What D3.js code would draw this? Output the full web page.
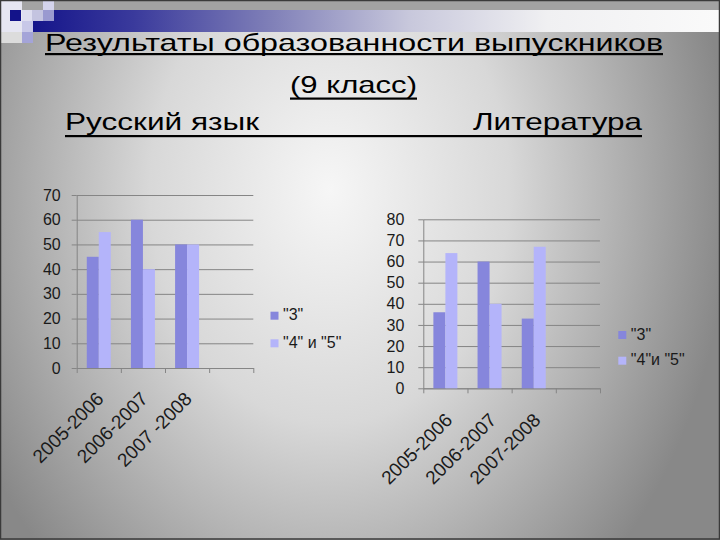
<!DOCTYPE html>
<html>
<head>
  <meta charset="utf-8">
  <script src="https://d3js.org/d3.v7.min.js"></script>
  <style>
    body { margin: 0; }
    svg { display: block; font-family: "Liberation Sans", Arial, sans-serif; }
    .grid line { stroke: #858585; stroke-width: 1px; }
    .grid path { display: none; }
    .axis path, .axis line { stroke: #858585; stroke-width: 1px; }
    .axis text { font-size: 16px; fill: #1a1a1a; }
    .cat { font-size: 19px; fill: #1a1a1a; }
    .legend text { font-size: 16px; fill: #1a1a1a; }
    .title { font-size: 24px; fill: #000; }
  </style>
</head>
<body>
  <script>
    // title texts
    var titleLine1 = "Результаты образованности выпускников";
    var titleLine2 = "(9 класс)";
    var subLeft = "Русский язык";
    var subRight = "Литература";

    // Русский язык
    var rusYears = ["2005-2006", "2006-2007", "2007 -2008", ""];
    var rus3 = [45, 60, 50];
    var rus45 = [55, 40, 50];
    var rusTicks = [0, 10, 20, 30, 40, 50, 60, 70];
    var rusLegend = ['"3"', '"4" и "5"'];

    // Литература
    var litYears = ["2005-2006", "2006-2007", "2007-2008", ""];
    var lit3 = [36, 60, 33];
    var lit45 = [64, 40, 67];
    var litTicks = [0, 10, 20, 30, 40, 50, 60, 70, 80];
    var litLegend = ['"3"', '"4"и "5"'];

    var colors = ["#8686dc", "#b4b4fa"];

    var width = 720, height = 540;
    var svg = d3.select("body").append("svg")
        .attr("width", width)
        .attr("height", height);

    var defs = svg.append("defs");
    var bg = defs.append("radialGradient")
        .attr("id", "bg")
        .attr("gradientUnits", "userSpaceOnUse")
        .attr("cx", 0).attr("cy", 0).attr("r", 1)
        .attr("gradientTransform", "translate(330,190) scale(400,520)");
    [[0, "#f6f6f6"], [0.45, "#d8d8d8"], [0.7, "#b4b4b4"], [0.85, "#9e9e9e"], [1, "#888888"]]
      .forEach(function(s) { bg.append("stop").attr("offset", s[0]).attr("stop-color", s[1]); });

    var band = defs.append("linearGradient")
        .attr("id", "band")
        .attr("gradientUnits", "userSpaceOnUse")
        .attr("x1", 30).attr("x2", 720).attr("y1", 0).attr("y2", 0);
    [[0, "#14148a"], [0.15, "#3a3a9c"], [0.35, "#8080b8"], [0.55, "#c8c8dc"], [0.75, "#f0f0f2"], [1, "#fafafa"]]
      .forEach(function(s) { band.append("stop").attr("offset", s[0]).attr("stop-color", s[1]); });

    svg.append("rect").attr("width", width).attr("height", height).attr("fill", "url(#bg)");
    svg.append("rect").attr("x", 0).attr("y", 0).attr("width", width).attr("height", 10).attr("fill", "#a2a2a2");
    svg.append("rect").attr("x", 22).attr("y", 10).attr("width", 698).attr("height", 22).attr("fill", "url(#band)");

    // little squares in the corner
    var squares = [
      [0, 0, 22, 32, "#e6e6f2"], [10, 10, 11, 11, "#13138a"], [22, 0, 21, 10, "#a4a4a4"],
      [43, 0, 11, 10, "#d4d4ec"], [22, 10, 11, 11, "#dedef0"], [32, 10, 11, 11, "#c4c4e0"],
      [43, 10, 11, 11, "#9a9ad0"], [22, 21, 11, 11, "#c8c8e8"], [22, 32, 11, 11, "#a4a4d8"],
      [0, 32, 22, 11, "#dcdcdc"]
    ];
    svg.selectAll(".sq").data(squares).enter().append("rect")
        .attr("x", function(d) { return d[0]; })
        .attr("y", function(d) { return d[1]; })
        .attr("width", function(d) { return d[2]; })
        .attr("height", function(d) { return d[3]; })
        .attr("fill", function(d) { return d[4]; });

    svg.append("rect").attr("x", 0.5).attr("y", 0.5).attr("width", width - 1).attr("height", height - 1.5)
        .attr("fill", "none").attr("stroke", "#3a3a3a").attr("stroke-width", 1.5);

    // titles, underlined
    function titleText(str, x, w, y) {
      svg.append("text").attr("class", "title")
          .attr("x", x).attr("y", y)
          .attr("textLength", w).attr("lengthAdjust", "spacingAndGlyphs")
          .text(str);
    }
    titleText(titleLine1, 45, 618, 51);
    titleText(titleLine2, 290, 127, 93);
    titleText(subLeft, 65, 194, 129.5);
    titleText(subRight, 473, 169, 129.5);
    [[45, 663, 53], [290, 417, 97.5], [65, 642, 135]].forEach(function(u) {
      svg.append("rect").attr("x", u[0]).attr("y", u[2]).attr("width", u[1] - u[0]).attr("height", 2.2).attr("fill", "#000");
    });

    function drawChart(o) {
      var g = svg.append("g");
      var x = d3.scaleBand().domain(o.cats).range([o.x0, o.x1]);
      var xs = d3.scaleBand().domain([0, 1]).range([0, x.bandwidth()]).paddingOuter(0.84);
      var y = d3.scaleLinear().domain([0, o.ticks[o.ticks.length - 1]]).range([o.y0, o.y1]);

      g.append("g").attr("class", "grid")
          .attr("transform", "translate(" + o.x0 + ",0)")
          .call(d3.axisLeft(y).tickValues(o.ticks).tickSize(-(o.x1 - o.x0)).tickFormat(""));

      var xb = d3.scaleLinear().domain([0, o.cats.length]).range([o.x0, o.x1]);
      g.append("g").attr("class", "axis")
          .attr("transform", "translate(0," + o.y0 + ")")
          .call(d3.axisBottom(xb).tickValues(d3.range(o.cats.length + 1)).tickSize(5).tickSizeOuter(0).tickFormat(""));

      g.append("g").attr("class", "axis")
          .attr("transform", "translate(" + o.x0 + ",0)")
          .call(d3.axisLeft(y).tickValues(o.ticks).tickSize(5).tickSizeOuter(0).tickPadding(o.pad));

      var series = [o.s3, o.s45];
      series.forEach(function(vals, si) {
        g.selectAll(".bar" + si).data(vals).enter().append("rect")
            .attr("x", function(d, i) { return x(o.cats[i]) + xs(si); })
            .attr("y", function(d) { return y(d); })
            .attr("width", xs.bandwidth())
            .attr("height", function(d) { return o.y0 - y(d); })
            .attr("fill", colors[si]);
      });

      g.selectAll(".cat").data(o.cats.filter(function(c) { return c !== ""; })).enter().append("text")
          .attr("class", "cat")
          .attr("text-anchor", "end")
          .attr("transform", function(d) {
            return "translate(" + (x(d) + x.bandwidth() / 2 + o.ldx) + "," + (o.y0 + o.ldy) + ") rotate(-45)";
          })
          .text(function(d) { return d; });

      var lg = g.append("g").attr("class", "legend");
      o.legend.forEach(function(name, i) {
        lg.append("rect").attr("x", o.lx).attr("y", o.ly[i]).attr("width", 8).attr("height", 8).attr("fill", colors[i]);
        lg.append("text").attr("x", o.lx + 12.5).attr("y", o.ly[i] + 8.5).text(name);
      });
    }

    drawChart({ cats: rusYears, s3: rus3, s45: rus45, ticks: rusTicks, legend: rusLegend,
      x0: 76.7, x1: 253.3, y0: 368, y1: 195, pad: 11, ldx: 6, ldy: 32,
      lx: 270.5, ly: [311.7, 339.3] });
    drawChart({ cats: litYears, s3: lit3, s45: lit45, ticks: litTicks, legend: litLegend,
      x0: 423.3, x1: 600, y0: 388.3, y1: 219.3, pad: 14, ldx: 8, ldy: 33,
      lx: 618.3, ly: [331, 356.7] });
  </script>
</body>
</html>
